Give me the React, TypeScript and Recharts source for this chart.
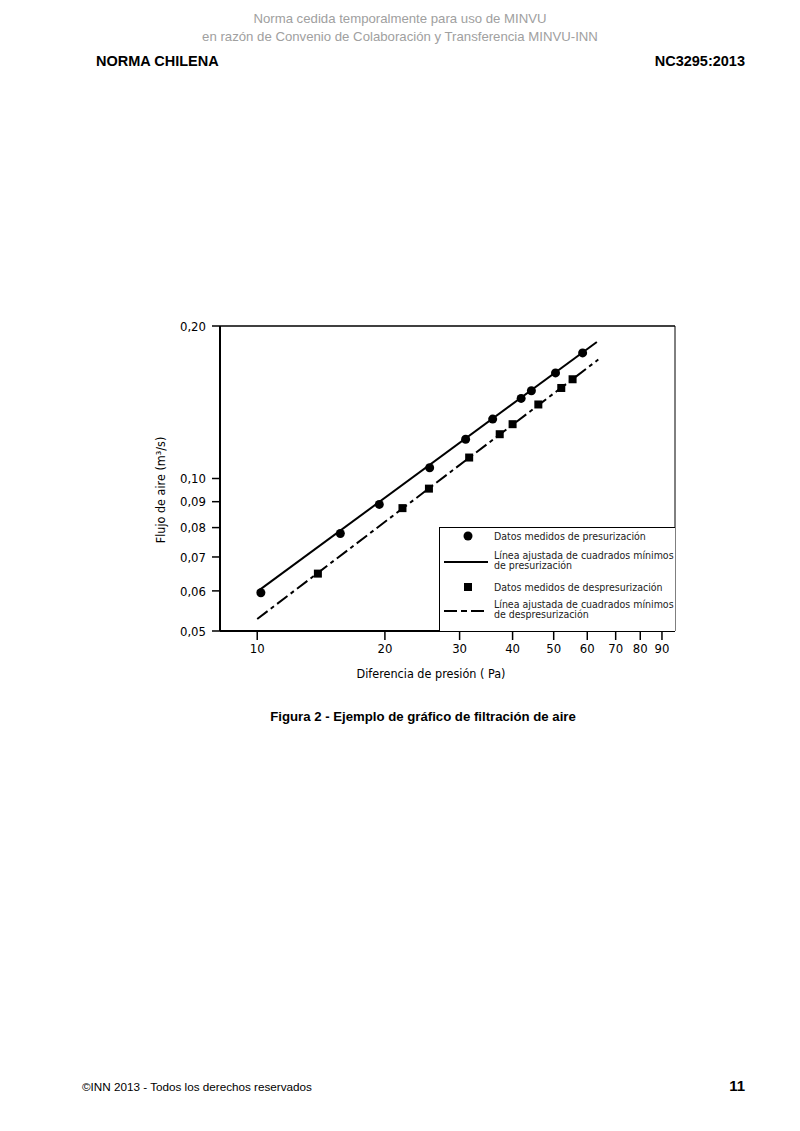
import React from 'react';
import {
  ComposedChart,
  Line,
  Scatter,
  XAxis,
  YAxis,
  ReferenceLine,
} from 'recharts';

// presurización: datos medidos
const presPressure = [10.2, 15.7, 19.4, 25.5, 31.0, 35.9, 41.9, 44.3, 50.5, 58.5];
const presFlow = [0.0595, 0.0779, 0.0889, 0.105, 0.1195, 0.131, 0.1439, 0.149, 0.1616, 0.177];

// despresurización: datos medidos
const despPressure = [13.9, 22.0, 25.4, 31.6, 37.3, 40.0, 46.0, 52.1, 55.4];
const despFlow = [0.0649, 0.0874, 0.0955, 0.110, 0.1223, 0.128, 0.140, 0.1509, 0.157];

// rectas ajustadas (extremos)
const presFitPressure = [10, 63.2];
const presFitFlow = [0.0598, 0.186];
const despFitPressure = [10, 63.7];
const despFitFlow = [0.0528, 0.1717];

const xTicks = [10, 20, 30, 40, 50, 60, 70, 80, 90];
const yTicks = [0.05, 0.06, 0.07, 0.08, 0.09, 0.1, 0.2];
const X_MIN = 8.17;
const X_MAX = 96.6;
const Y_MIN = 0.05;
const Y_MAX = 0.2;

const zip = (xs: number[], ys: number[]) => xs.map((x, i) => ({ x, y: ys[i] }));

const presData = zip(presPressure, presFlow);
const despData = zip(despPressure, despFlow);
const presFit = zip(presFitPressure, presFitFlow);
const despFit = zip(despFitPressure, despFitFlow);

const chartFont = '"DejaVu Sans Condensed", "Liberation Sans Narrow", "Roboto Condensed", Roboto, sans-serif';
const pageFont = '"Liberation Sans", Arial, sans-serif';
const DASH = '13 4 4 4';

const fmt = (v: number) => v.toFixed(2).replace('.', ',');

const CircleDot = (props: any) => <circle cx={props.cx} cy={props.cy} r={4.5} fill="#000" />;
const SquareDot = (props: any) => (
  <rect x={props.cx - 4} y={props.cy - 4} width={8} height={8} fill="#000" />
);

function LegendBox() {
  const text: React.CSSProperties = { position: 'absolute', left: 54, fontSize: 10.5, lineHeight: '10px', color: '#222', whiteSpace: 'nowrap' };
  return (
    <div
      style={{
        position: 'absolute',
        left: 439,
        top: 527,
        width: 236,
        height: 104,
        borderLeft: '1px solid #000',
        borderTop: '1px solid #000',
        boxSizing: 'border-box',
        background: '#fff',
        fontFamily: chartFont,
      }}
    >
      <svg width={236} height={104} style={{ position: 'absolute', left: 0, top: 0 }}>
        <circle cx={28} cy={8} r={4.5} fill="#000" />
        <line x1={4} x2={48} y1={34} y2={34} stroke="#000" strokeWidth={2} />
        <rect x={24} y={55} width={8} height={8} fill="#000" />
        <line x1={4} x2={48} y1={83} y2={83} stroke="#000" strokeWidth={2} strokeDasharray="13 4 6 4" />
      </svg>
      <div style={{ ...text, top: 3 }}>Datos medidos de presurización</div>
      <div style={{ ...text, top: 22 }}>Línea ajustada de cuadrados mínimos<br />de presurización</div>
      <div style={{ ...text, top: 54 }}>Datos medidos de despresurización</div>
      <div style={{ ...text, top: 71 }}>Línea ajustada de cuadrados mínimos<br />de despresurización</div>
    </div>
  );
}

export default function App() {
  return (
    <div style={{ position: 'absolute', left: 0, top: 0, width: 800, height: 1131, background: '#fff', fontFamily: pageFont }}>
      <div style={{ position: 'absolute', top: 10, width: 800, textAlign: 'center', color: '#a0a0a0', fontSize: 13.2, lineHeight: '18px' }}>
        Norma cedida temporalmente para uso de MINVU
        <br />
        en razón de Convenio de Colaboración y Transferencia MINVU-INN
      </div>
      <div style={{ position: 'absolute', left: 96, top: 53, fontSize: 14.5, fontWeight: 'bold' }}>NORMA CHILENA</div>
      <div style={{ position: 'absolute', right: 55, top: 53, fontSize: 14.5, fontWeight: 'bold' }}>NC3295:2013</div>

      <div style={{ position: 'absolute', left: 140, top: 310 }}>
        <ComposedChart
          width={560}
          height={400}
          margin={{ top: 16, right: 25, bottom: 29, left: 30 }}
          style={{ fontFamily: chartFont }}
        >
          <XAxis
            dataKey="x"
            type="number"
            scale="log"
            domain={[X_MIN, X_MAX]}
            allowDataOverflow
            ticks={xTicks}
            height={50}
            tickSize={9}
            tickMargin={4}
            tick={{ fill: '#000', fontSize: 13 }}
            axisLine={{ stroke: '#000', strokeWidth: 2 }}
            tickLine={{ stroke: '#000', strokeWidth: 1.5 }}
            label={{
              content: () => (
                <text x={291} y={368} textAnchor="middle" fontSize={12.5} fill="#000" fontFamily={chartFont}>
                  Diferencia de presión ( Pa)
                </text>
              ),
            }}
          />
          <YAxis
            dataKey="y"
            type="number"
            scale="log"
            domain={[Y_MIN, Y_MAX]}
            allowDataOverflow
            ticks={yTicks}
            width={50}
            tickSize={8}
            tickMargin={6}
            tickFormatter={fmt}
            tick={{ fill: '#000', fontSize: 13 }}
            axisLine={{ stroke: '#000', strokeWidth: 2 }}
            tickLine={{ stroke: '#000', strokeWidth: 1.5 }}
            label={{
              content: () => (
                <text x={25} y={180} transform="rotate(-90 25 180)" textAnchor="middle" fontSize={12.5} fill="#000" fontFamily={chartFont}>
                  Flujo de aire (m³/s)
                </text>
              ),
            }}
          />
          <ReferenceLine y={Y_MAX} stroke="#000" strokeWidth={1.5} />
          <ReferenceLine x={X_MAX} stroke="#000" strokeWidth={1} />
          <Line data={presFit} dataKey="y" stroke="#000" strokeWidth={2} dot={false} isAnimationActive={false} />
          <Line data={despFit} dataKey="y" stroke="#000" strokeWidth={2} strokeDasharray={DASH} dot={false} isAnimationActive={false} />
          <Scatter data={presData} dataKey="y" shape={CircleDot} isAnimationActive={false} />
          <Scatter data={despData} dataKey="y" shape={SquareDot} isAnimationActive={false} />
        </ComposedChart>
      </div>
      <LegendBox />

      <div style={{ position: 'absolute', top: 709, width: 846, textAlign: 'center', fontSize: 13.2, fontWeight: 'bold' }}>
        Figura 2 - Ejemplo de gráfico de filtración de aire
      </div>

      <div style={{ position: 'absolute', left: 82, top: 1080, fontSize: 11.7 }}>©INN 2013 - Todos los derechos reservados</div>
      <div style={{ position: 'absolute', right: 55, top: 1077, fontSize: 15, fontWeight: 'bold' }}>11</div>
    </div>
  );
}
